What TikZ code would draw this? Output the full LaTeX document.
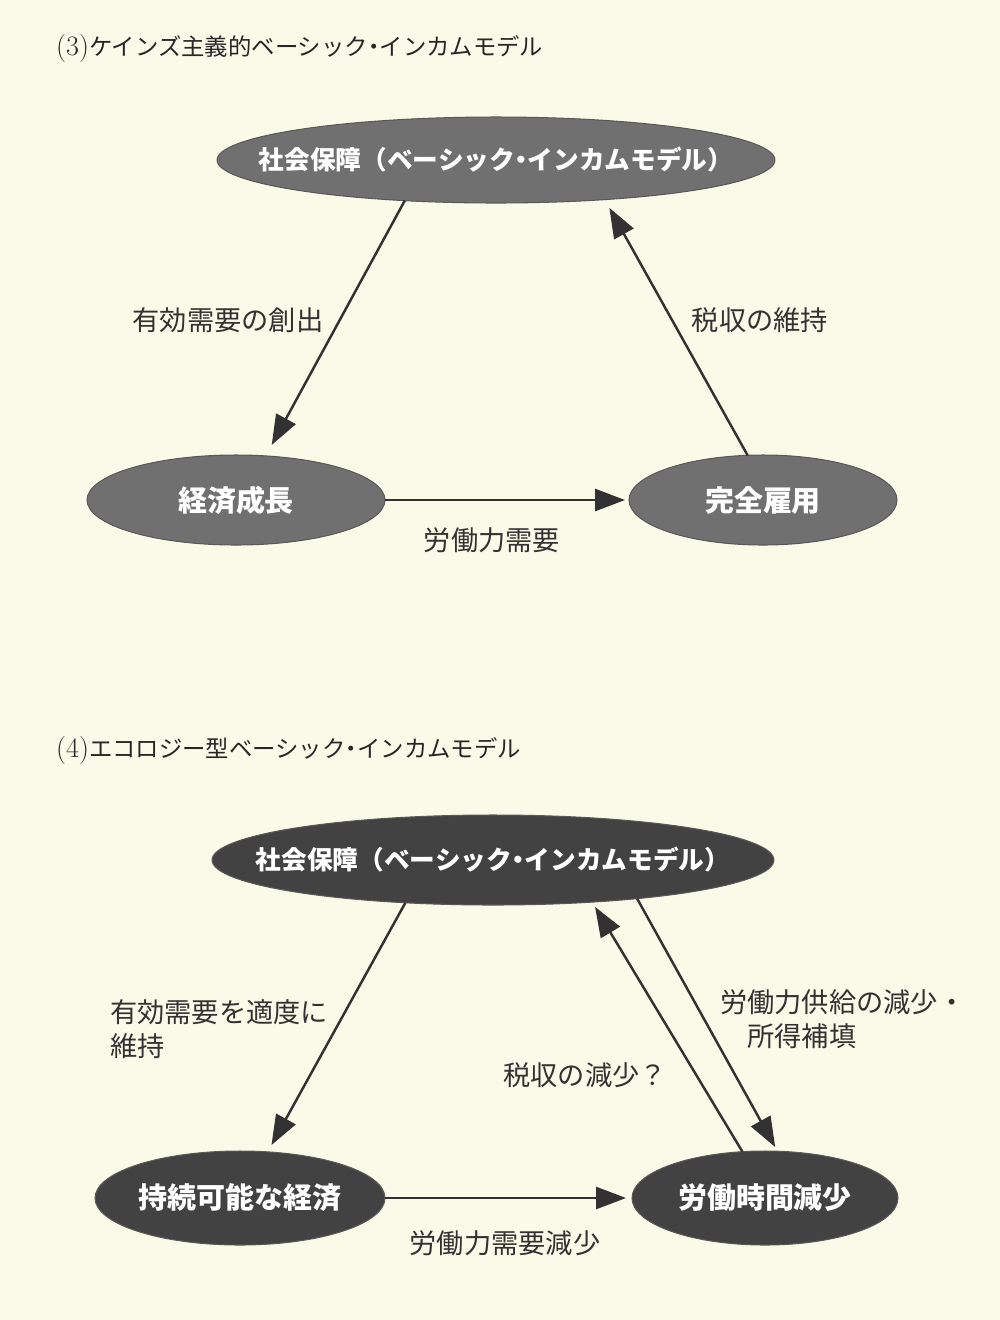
\documentclass[tikz,border=0pt]{standalone}
\usepackage{fontspec}
\newfontfamily\jp{Noto Sans CJK JP}
\usetikzlibrary{arrows.meta,shapes.geometric}

\definecolor{paper}{RGB}{250,250,232}
\definecolor{ovalgray}{RGB}{112,112,112}
\definecolor{ovaldark}{RGB}{66,66,66}
\definecolor{ink}{RGB}{50,50,50}

% narrow middle dot
\newcommand{\ndot}{\kern-0.25em・\kern-0.25em}

\tikzset{
  oval/.style={ellipse, fill=ovalgray, draw=black!65, line width=0.6pt, inner sep=0pt, outer sep=0pt},
  darkoval/.style={oval, fill=ovaldark},
  ovaltext/.style={text=white, font=\jp\bfseries\fontsize{16.5}{20}\selectfont},
  longtext/.style={ovaltext, font=\jp\bfseries\fontsize{14.6}{20}\selectfont},
  flow/.style={-{Triangle[length=17pt,width=12.5pt]}, line width=1.4pt, draw=ink, fill=ink},
  caption/.style={text=ink, font=\jp\fontsize{15.5}{19}\selectfont},
  heading/.style={anchor=west, text=black!85, font=\fontsize{16}{18}\selectfont}
}

\begin{document}
\begin{tikzpicture}[x=0.02cm, y=-0.02cm]
  % Page
  \fill[paper] (0,0) rectangle (1000,1320);

  % (3) Keynesian model
  \node[heading] (h3) at (50,48) {(3)\jp\fontsize{13.3}{18}\selectfont ケインズ主義的ベーシック\ndot インカムモデル};

  \node[oval, minimum width=11.16cm, minimum height=1.72cm,
        label={[longtext]center:社会保障（ベーシック\ndot インカムモデル）}] (ss1) at (496,160) {};
  \node[oval, minimum width=5.96cm, minimum height=1.8cm,
        label={[ovaltext]center:経済成長}] (eg1) at (236,500) {};
  \node[oval, minimum width=5.36cm, minimum height=1.8cm,
        label={[ovaltext]center:完全雇用}] (ec1) at (763,500) {};

  \draw[flow, shorten >=0.25cm] (ss1.204) -- (eg1.56);
  \draw[flow, shorten >=0.19cm] (ec1.109) -- (ss1.-20.3);
  \draw[flow, shorten >=0.08cm] (eg1.east) -- (ec1.west);

  \node[caption] (c31) at (228,320) {有効需要の創出};
  \node[caption] (c32) at (760,320) {税収の維持};
  \node[caption] (c33) at (492,540) {労働力需要};

  % (4) Ecological model
  \node[heading] (h4) at (50,750) {(4)\jp\fontsize{13.3}{18}\selectfont エコロジー型ベーシック\ndot インカムモデル};

  \node[darkoval, minimum width=11.24cm, minimum height=1.8cm,
        label={[longtext]center:社会保障（ベーシック\ndot インカムモデル）}] (ss2) at (493,860) {};
  \node[darkoval, minimum width=5.8cm, minimum height=1.88cm,
        label={[ovaltext]center:持続可能な経済}] (sp2) at (240,1198) {};
  \node[darkoval, minimum width=5.32cm, minimum height=1.88cm,
        label={[ovaltext]center:労働時間減少}] (lt2) at (765,1198) {};

  \draw[flow, shorten >=0.156cm] (ss2.206.5) -- (sp2.59.5);
  \draw[flow, shorten >=0.112cm] (lt2.116) -- (ss2.-23.5);
  \draw[flow, shorten >=0.096cm] (ss2.-15) -- (lt2.75.3);
  \draw[flow, shorten >=0.12cm] (sp2.east) -- (lt2.west);

  \node[caption, anchor=west, align=left] (c41) at (104,1029) {有効需要を適度に\\維持};
  \node[caption] (c42) at (585,1075) {税収の減少？};
  \node[caption, anchor=west, align=left] (c43) at (714,1019) {労働力供給の減少・\\\hspace{1em}所得補填};
  \node[caption] (c44) at (505,1243) {労働力需要減少};
\end{tikzpicture}
\end{document}
